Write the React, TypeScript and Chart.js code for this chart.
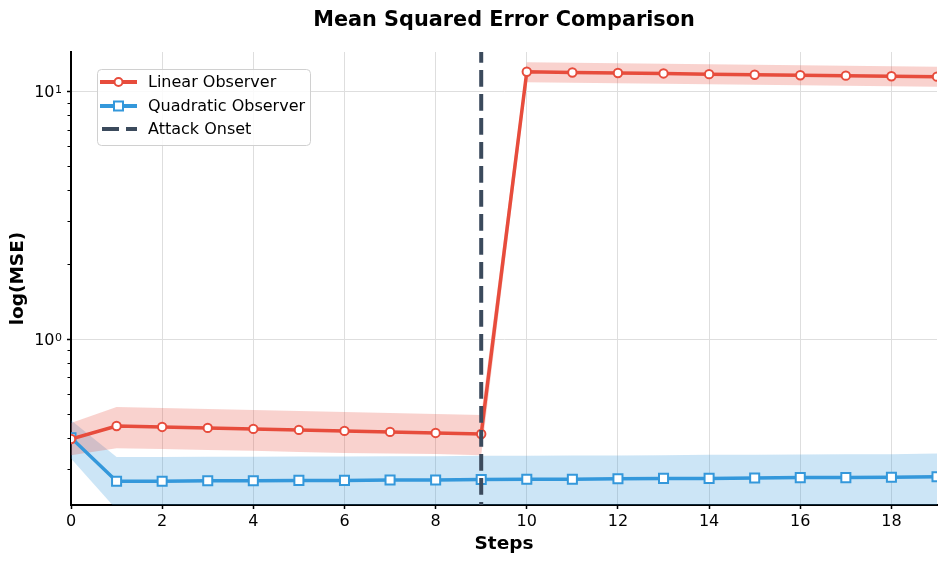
import React, { useEffect, useRef } from 'react';
import { Chart, registerables } from 'chart.js';

Chart.register(...registerables);

// ---------- data ----------
const steps = [0, 1, 2, 3, 4, 5, 6, 7, 8, 9, 10, 11, 12, 13, 14, 15, 16, 17, 18, 19];
const linearMSE = [0.395, 0.446, 0.442, 0.438, 0.434, 0.430, 0.426, 0.422, 0.418, 0.414, 11.99, 11.9, 11.85, 11.8, 11.72, 11.66, 11.6, 11.56, 11.5, 11.45];
const linearUpper = [0.458, 0.532, 0.527, 0.522, 0.517, 0.512, 0.508, 0.503, 0.499, 0.494, 13.09, 13.03, 12.97, 12.91, 12.85, 12.79, 12.73, 12.67, 12.61, 12.55];
const linearLower = [0.340, 0.363, 0.360, 0.357, 0.354, 0.350, 0.347, 0.345, 0.344, 0.340, 10.87, 10.82, 10.77, 10.72, 10.67, 10.62, 10.57, 10.52, 10.47, 10.43];
const quadMSE = [0.40, 0.267, 0.267, 0.268, 0.268, 0.269, 0.269, 0.270, 0.270, 0.271, 0.272, 0.272, 0.273, 0.274, 0.274, 0.275, 0.276, 0.276, 0.277, 0.278];
const quadUpper = [0.47, 0.334, 0.334, 0.335, 0.335, 0.336, 0.336, 0.337, 0.337, 0.338, 0.338, 0.339, 0.339, 0.340, 0.341, 0.341, 0.342, 0.343, 0.343, 0.345];
const quadLower = [0.33, 0.205, 0.205, 0.205, 0.206, 0.206, 0.206, 0.207, 0.207, 0.207, 0.208, 0.208, 0.208, 0.209, 0.209, 0.209, 0.210, 0.210, 0.210, 0.211];
const attackStep = 9;
const xMin = 0;
const xMax = 19;
const yMin = 0.214;
const yMax = 14.4;
const xTickValues = [0, 2, 4, 6, 8, 10, 12, 14, 16, 18];
const yMajorTicks = [1, 10];
const yTickExponents = ['0', '1'];
const yMinorTicks = [0.3, 0.4, 0.5, 0.6, 0.7, 0.8, 0.9, 2, 3, 4, 5, 6, 7, 8, 9];
const seriesNames = ['Linear Observer', 'Quadratic Observer', 'Attack Onset'];
const chartTitle = 'Mean Squared Error Comparison';
const xTitle = 'Steps';
const yTitle = 'log(MSE)';

const RED = '#e74c3c';
const BLUE = '#3498db';
const DARK = '#3b4a5c';
const FONT = "'DejaVu Sans', sans-serif";

const pts = (ys: number[]) => ys.map((y, i) => ({ x: steps[i], y }));

const titlePlugin = {
  id: 'centeredTitle',
  afterDraw(chart: any) {
    const { ctx, chartArea } = chart;
    ctx.save();
    ctx.font = `bold 20.8px ${FONT}`;
    ctx.fillStyle = '#000';
    ctx.textAlign = 'center';
    ctx.textBaseline = 'alphabetic';
    ctx.fillText(chartTitle, (chartArea.left + chartArea.right) / 2, 25.5);
    ctx.restore();
  },
};

const yLabelPlugin = {
  id: 'yLabels',
  afterDraw(chart: any) {
    const y = chart.scales.y;
    const { ctx, chartArea } = chart;
    ctx.save();
    ctx.fillStyle = '#000';
    ctx.textBaseline = 'alphabetic';
    ctx.textAlign = 'right';
    yMajorTicks.forEach((v, i) => {
      const py = y.getPixelForValue(v);
      const right = chartArea.left - 9;
      ctx.font = `11px ${FONT}`;
      const supW = ctx.measureText(yTickExponents[i]).width;
      ctx.fillText(yTickExponents[i], right, py + 1.5);
      ctx.font = `16px ${FONT}`;
      ctx.fillText('10', right - supW - 0.5, py + 6);
    });
    // minor ticks
    ctx.strokeStyle = '#000';
    ctx.lineWidth = 1;
    for (const v of yMinorTicks) {
      const py = Math.round(y.getPixelForValue(v)) + 0.5;
      if (py < chartArea.top || py > chartArea.bottom) continue;
      ctx.beginPath();
      ctx.moveTo(chartArea.left - 3.5, py);
      ctx.lineTo(chartArea.left, py);
      ctx.stroke();
    }
    ctx.restore();
  },
};

const legendPlugin = {
  id: 'insideLegend',
  afterDraw(chart: any) {
    const { ctx, chartArea } = chart;
    const bx = chartArea.left + 26;
    const by = chartArea.top + 17;
    const bw = 213;
    const bh = 76;
    ctx.save();
    ctx.beginPath();
    ctx.roundRect(bx + 0.5, by + 0.5, bw, bh, 4);
    ctx.fillStyle = 'rgba(255,255,255,0.85)';
    ctx.fill();
    ctx.strokeStyle = '#d0d0d0';
    ctx.lineWidth = 1;
    ctx.stroke();

    const rows = [13, 37, 60];
    const x0 = bx + 3;
    const x1 = bx + 40;
    const xm = (x0 + x1) / 2;
    ctx.font = `16px ${FONT}`;
    ctx.textBaseline = 'middle';
    ctx.textAlign = 'left';
    rows.forEach((dy, i) => {
      const yy = by + dy;
      ctx.save();
      ctx.lineWidth = 4;
      if (i === 2) {
        ctx.strokeStyle = DARK;
        ctx.setLineDash([17, 7]);
        ctx.beginPath();
        ctx.rect(x0, yy - 5, x1 - x0, 10);
        ctx.clip();
        ctx.beginPath();
        ctx.moveTo(x0 + 2, yy);
        ctx.lineTo(x1, yy);
        ctx.stroke();
      } else {
        const c = i === 0 ? RED : BLUE;
        ctx.strokeStyle = c;
        ctx.beginPath();
        ctx.moveTo(x0, yy);
        ctx.lineTo(x1, yy);
        ctx.stroke();
        ctx.lineWidth = 2;
        ctx.fillStyle = '#fff';
        ctx.beginPath();
        if (i === 0) ctx.arc(xm, yy, 4, 0, Math.PI * 2);
        else ctx.rect(xm - 4.5, yy - 4.5, 9, 9);
        ctx.fill();
        ctx.stroke();
      }
      ctx.restore();
      ctx.fillStyle = '#000';
      ctx.fillText(seriesNames[i], bx + 51, yy + 1);
    });
    ctx.restore();
  },
};

export default function App() {
  const ref = useRef<HTMLCanvasElement | null>(null);

  useEffect(() => {
    document.body.style.margin = '0';
    const canvas = ref.current;
    if (!canvas) return;
    const chart = new Chart(canvas, {
      type: 'line',
      data: {
        datasets: [
          {
            label: 'linUpper',
            data: pts(linearUpper),
            borderWidth: 0,
            pointRadius: 0,
            backgroundColor: 'rgba(231,76,60,0.25)',
            fill: '+1',
            order: 3,
          },
          {
            label: 'linLower',
            data: pts(linearLower),
            borderWidth: 0,
            pointRadius: 0,
            fill: false,
            order: 3,
          },
          {
            label: 'quadUpper',
            data: pts(quadUpper),
            borderWidth: 0,
            pointRadius: 0,
            backgroundColor: 'rgba(52,152,219,0.25)',
            fill: '+1',
            order: 3,
          },
          {
            label: 'quadLower',
            data: pts(quadLower),
            borderWidth: 0,
            pointRadius: 0,
            fill: false,
            order: 3,
          },
          {
            label: seriesNames[0],
            data: pts(linearMSE),
            borderColor: RED,
            borderWidth: 3.5,
            pointStyle: 'circle',
            pointRadius: 4.2,
            pointBorderWidth: 2,
            pointBackgroundColor: '#fff',
            pointBorderColor: RED,
            fill: false,
            order: 1,
          },
          {
            label: seriesNames[1],
            data: pts(quadMSE),
            borderColor: BLUE,
            borderWidth: 3.5,
            pointStyle: 'rect',
            pointRadius: 6.4,
            pointBorderWidth: 2,
            pointBackgroundColor: '#fff',
            pointBorderColor: BLUE,
            fill: false,
            order: 1,
          },
          {
            label: seriesNames[2],
            data: [
              { x: attackStep, y: yMax },
              { x: attackStep, y: yMin },
            ],
            borderColor: DARK,
            borderWidth: 4,
            borderDash: [16.7, 7.3],
            borderDashOffset: 6,
            borderCapStyle: 'butt',
            pointRadius: 0,
            fill: false,
            order: 0,
          },
        ],
      },
      options: {
        responsive: false,
        animation: false,
        events: [],
        layout: { padding: { left: 0, right: 9, top: 52, bottom: 0 } },
        plugins: {
          legend: { display: false },
          tooltip: { enabled: false },
          title: { display: false },
        },
        scales: {
          x: {
            type: 'linear',
            min: xMin,
            max: xMax,
            afterBuildTicks: (s: any) => {
              s.ticks = xTickValues.map((v) => ({ value: v }));
            },
            afterFit: (s: any) => {
              s.height = 58;
            },
            ticks: {
              color: '#000',
              font: { family: FONT, size: 16 },
              padding: 3,
              maxRotation: 0,
              autoSkip: false,
            },
            grid: {
              color: '#dedede',
              lineWidth: 1,
              drawTicks: true,
              tickLength: 4,
              tickColor: '#000',
              tickWidth: 1.5,
            },
            border: { display: true, color: '#000', width: 2 },
            title: {
              display: true,
              text: xTitle,
              color: '#000',
              font: { family: FONT, size: 18.5, weight: 'bold' },
              padding: { top: 0, bottom: 8 },
            },
          },
          y: {
            type: 'logarithmic',
            min: yMin,
            max: yMax,
            afterBuildTicks: (s: any) => {
              s.ticks = yMajorTicks.map((v) => ({ value: v, major: true }));
            },
            afterFit: (s: any) => {
              s.width = 71;
            },
            ticks: {
              display: false,
            },
            grid: {
              color: '#dedede',
              lineWidth: 1,
              drawTicks: true,
              tickLength: 4,
              tickColor: '#000',
              tickWidth: 1.5,
            },
            border: { display: true, color: '#000', width: 2 },
            title: {
              display: true,
              text: yTitle,
              color: '#000',
              font: { family: FONT, size: 18.5, weight: 'bold' },
              padding: { top: 7, bottom: 0 },
            },
          },
        },
      },
      plugins: [titlePlugin, yLabelPlugin, legendPlugin],
    } as any);
    return () => chart.destroy();
  }, []);

  return (
    <div style={{ width: 946, height: 563 }}>
      <canvas ref={ref} width={946} height={563} style={{ display: 'block' }} />
    </div>
  );
}
